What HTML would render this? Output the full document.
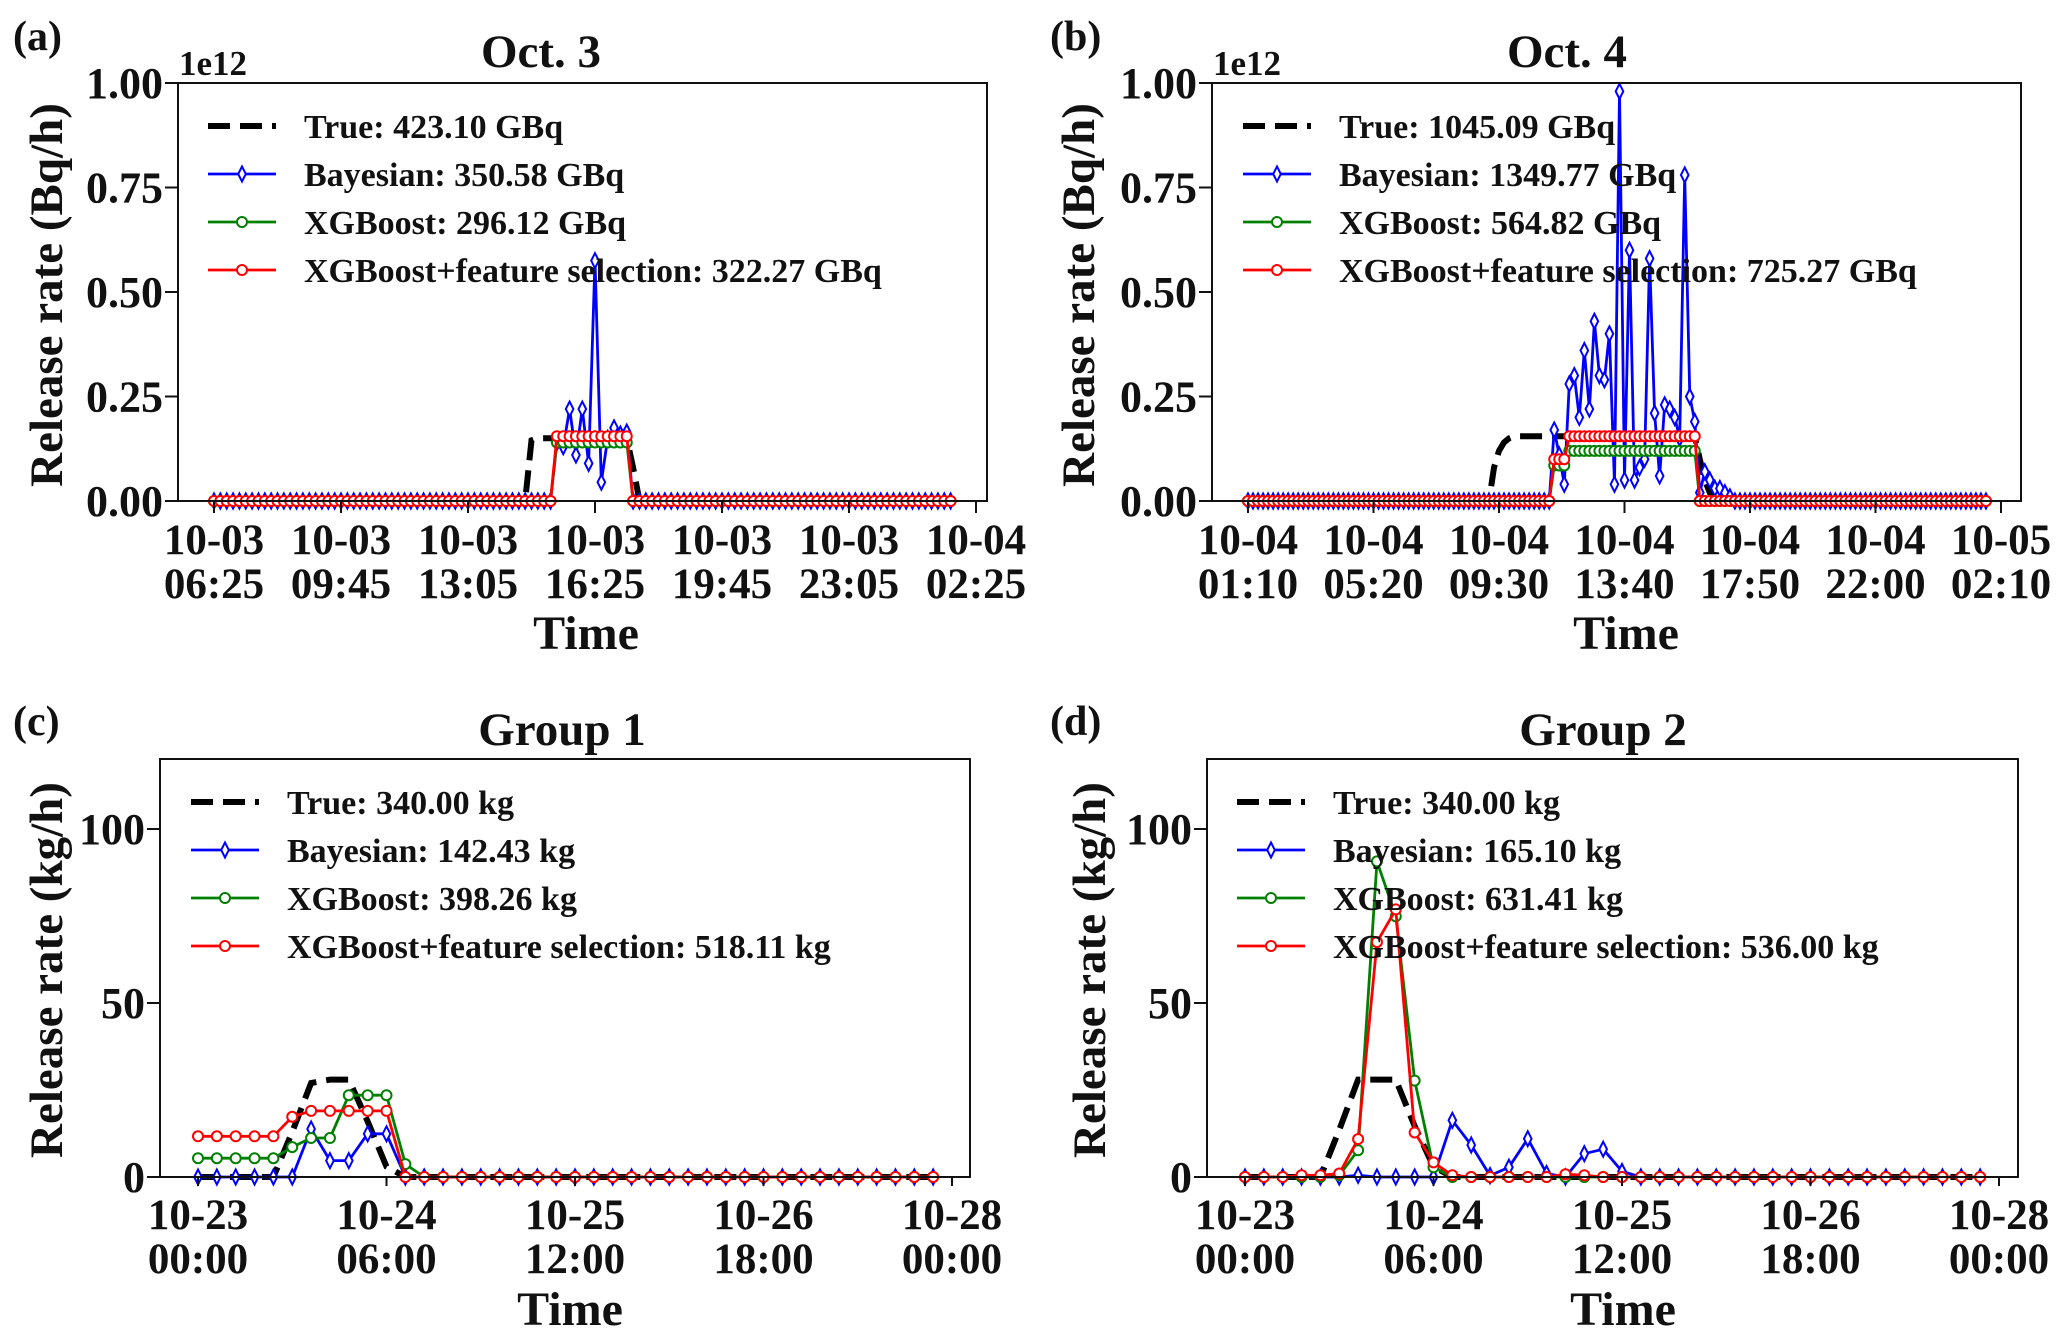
<!DOCTYPE html>
<html><head><meta charset="utf-8"><style>
html,body{margin:0;padding:0;background:#fff;}
svg text{font-family:"Liberation Serif",serif;font-weight:bold;fill:#111;}
</style></head><body>
<svg id="fig" width="2067" height="1336" viewBox="0 0 2067 1336" xmlns="http://www.w3.org/2000/svg"></svg>
<script>
// ---------- Panel (a) Oct. 3 : 10-min steps from 06:25, window values from index aStart ----------
const aN = 117;
const aStart = 48;
const aTrue  = [0,0,0.145,0.15,0.15,0.15,0.15,0.15,0.15,0.15,0.15,0.15,0.15,0.15,0.15,0.15,0.15,0.15,0.08,0];
const aBayes = [0,0,0,0,0,0,0.14,0.13,0.22,0.11,0.22,0.09,0.575,0.045,0.15,0.175,0.16,0.165,0,0];
const aXgb   = [0,0,0,0,0,0,0.14,0.14,0.14,0.14,0.14,0.14,0.14,0.14,0.14,0.14,0.14,0.14,0,0];
const aXfs   = [0,0,0,0,0,0,0.155,0.155,0.155,0.155,0.155,0.155,0.155,0.155,0.155,0.155,0.155,0.155,0,0];
const aTicks = [["10-03","06:25"],["10-03","09:45"],["10-03","13:05"],["10-03","16:25"],["10-03","19:45"],["10-03","23:05"],["10-04","02:25"]];
const aLegend = ["True: 423.10 GBq","Bayesian: 350.58 GBq","XGBoost: 296.12 GBq","XGBoost+feature selection: 322.27 GBq"];

// ---------- Panel (b) Oct. 4 : 10-min steps from 01:10 ----------
const bN = 148;
const bStart = 47;
const bTrue  = [0,0,0.08,0.12,0.14,0.15,0.155,0.155,0.155,0.155,0.155,0.155,0.155,0.155,0.155,0.155,0.155,0.155,0.155,0.155,0.155,0.155,0.155,0.155,0.155,0.155,0.155,0.155,0.155,0.155,0.155,0.155,0.155,0.155,0.155,0.155,0.155,0.155,0.155,0.155,0.155,0.155,0.155,0.1,0.05,0.02,0,0,0,0,0,0];
const bBayes = [0,0,0,0,0,0,0,0,0,0,0,0,0,0,0.17,0.11,0.04,0.28,0.3,0.2,0.36,0.22,0.43,0.3,0.29,0.4,0.04,0.98,0.05,0.6,0.05,0.08,0.1,0.58,0.21,0.06,0.23,0.22,0.2,0.15,0.78,0.25,0.19,0.02,0.07,0.05,0.03,0.03,0.02,0.01,0,0];
const bXgb   = [0,0,0,0,0,0,0,0,0,0,0,0,0,0,0.085,0.085,0.085,0.12,0.12,0.12,0.12,0.12,0.12,0.12,0.12,0.12,0.12,0.12,0.12,0.12,0.12,0.12,0.12,0.12,0.12,0.12,0.12,0.12,0.12,0.12,0.12,0.12,0.12,0,0,0,0,0,0,0,0,0];
const bXfs   = [0,0,0,0,0,0,0,0,0,0,0,0,0,0,0.1,0.1,0.1,0.155,0.155,0.155,0.155,0.155,0.155,0.155,0.155,0.155,0.155,0.155,0.155,0.155,0.155,0.155,0.155,0.155,0.155,0.155,0.155,0.155,0.155,0.155,0.155,0.155,0.155,0,0,0,0,0,0,0,0,0];
const bTicks = [["10-04","01:10"],["10-04","05:20"],["10-04","09:30"],["10-04","13:40"],["10-04","17:50"],["10-04","22:00"],["10-05","02:10"]];
const bLegend = ["True: 1045.09 GBq","Bayesian: 1349.77 GBq","XGBoost: 564.82 GBq","XGBoost+feature selection: 725.27 GBq"];

// ---------- Panel (c) Group 1 : 3-hour steps from 10-23 00:00 ----------
const cTrue  = [0,0,0,0,0,13,27,28,28,16,3,0,0,0,0,0,0,0,0,0,0,0,0,0,0,0,0,0,0,0,0,0,0,0,0,0,0,0,0,0];
const cBayes = [0,0,0,0,0,0,13.8,4.7,4.7,12.4,12.4,0,0,0,0,0,0,0,0,0,0,0,0,0,0,0,0,0,0,0,0,0,0,0,0,0,0,0,0,0];
const cXgb   = [5.4,5.4,5.4,5.4,5.4,8.6,11.2,11.2,23.5,23.5,23.5,3.7,0,0,0,0,0,0,0,0,0,0,0,0,0,0,0,0,0,0,0,0,0,0,0,0,0,0,0,0];
const cXfs   = [11.7,11.7,11.7,11.7,11.7,17.3,19,19,19,19,19,0,0,0,0,0,0,0,0,0,0,0,0,0,0,0,0,0,0,0,0,0,0,0,0,0,0,0,0,0];
const cLegend = ["True: 340.00 kg","Bayesian: 142.43 kg","XGBoost: 398.26 kg","XGBoost+feature selection: 518.11 kg"];

// ---------- Panel (d) Group 2 ----------
const dTrue  = [0,0,0,0,0,13.6,28,28,28,14.6,3,0,0,0,0,0,0,0,0,0,0,0,0,0,0,0,0,0,0,0,0,0,0,0,0,0,0,0,0,0];
const dBayes = [0,0,0,0,0,0,0.5,0,0,0,0,16.3,9.2,0.4,2.8,11,1,0,6.7,8,1.6,0,0,0,0,0,0,0,0,0,0,0,0,0,0,0,0,0,0,0];
const dXgb   = [0,0,0,0,0,0.5,7.7,90.7,74.9,27.7,2.8,0,0,0,0,0,0,0,0,0,0,0,0,0,0,0,0,0,0,0,0,0,0,0,0,0,0,0,0,0];
const dXfs   = [0,0,0,0.5,0.5,1,10.9,67.5,76.9,12.8,4.2,0.5,0,0,0,0,0,0.8,0.5,0,0,0,0,0,0,0,0,0,0,0,0,0,0,0,0,0,0,0,0,0];
const dLegend = ["True: 340.00 kg","Bayesian: 165.10 kg","XGBoost: 631.41 kg","XGBoost+feature selection: 536.00 kg"];
const cdTicks = [["10-23","00:00"],["10-24","06:00"],["10-25","12:00"],["10-26","18:00"],["10-28","00:00"]];

const NS = "http://www.w3.org/2000/svg";
const fig = document.getElementById('fig');
function mk(tag, attrs, parent){ const e=document.createElementNS(NS,tag); for(const k in attrs) e.setAttribute(k,attrs[k]); (parent||fig).appendChild(e); return e; }
function txt(s, x, y, size, anchor, parent){ const t=mk('text',{x:x,y:y,'font-size':size,'text-anchor':anchor||'middle'},parent); t.textContent=s; return t; }
function expand(win, start, n){ const out=[]; for(let i=0;i<n;i++){ const j=i-start; out.push(j>=0&&j<win.length?win[j]:0); } return out; }

const COLORS = {blue:'#0000ff', green:'#008000', red:'#ff0000'};

function diamond(g, x, y, col){
  return mk('path',{d:`M${x} ${y-7.5} L${x+3.8} ${y} L${x} ${y+7.5} L${x-3.8} ${y} Z`,fill:'#fff',stroke:col,'stroke-width':2},g);
}
function circle(g, x, y, col){
  return mk('circle',{cx:x,cy:y,r:5,fill:'#fff',stroke:col,'stroke-width':2},g);
}

function panel(p){
  const g = mk('g',{});
  
  
  const X = i => p.x0 + i*p.dx;
  const Y = v => p.yBase - v*p.ky;
  const series = [
    {vals:p.tru, col:'#000', kind:'true', name:'true-line'},
    {vals:p.bay, col:COLORS.blue, kind:'diamond', name:'bayesian-line'},
    {vals:p.xgb, col:COLORS.green, kind:'circle', name:'xgboost-line'},
    {vals:p.xfs, col:COLORS.red, kind:'circle', name:'xgboost-fs-line'}
  ];
  series.forEach(s=>{
    const sg = mk('g',{},g);
    
    
    const pts = s.vals.map((v,i)=>X(i).toFixed(1)+','+Y(v).toFixed(1)).join(' ');
    if(s.kind==='true'){
      mk('polyline',{points:pts,fill:'none',stroke:'#000','stroke-width':6,'stroke-dasharray':'22 10'},sg);
    } else {
      mk('polyline',{points:pts,fill:'none',stroke:s.col,'stroke-width':2.8,'stroke-linejoin':'round'},sg);
      s.vals.forEach((v,i)=>{ if(s.kind==='diamond') diamond(sg,X(i),Y(v),s.col); else circle(sg,X(i),Y(v),s.col); });
    }
  });
  const fr = mk('rect',{x:p.left,y:p.top,width:p.right-p.left,height:p.yBase-p.top,fill:'none',stroke:'#111','stroke-width':2},g);
  
  
  p.yTicks.forEach((v,k)=>{
    const y=Y(v);
    mk('line',{x1:p.left-13,y1:y,x2:p.left,y2:y,stroke:'#111','stroke-width':2},g);
    const t=txt(p.yLabels[k], p.left-15, y+15, 44, 'end', g);
    
    
  });
  p.xTicks.forEach((lab,k)=>{
    const x=p.x0 + k*p.tickStep*p.dx;
    mk('line',{x1:x,y1:p.yBase,x2:x,y2:p.yBase+p.tickLen,stroke:'#111','stroke-width':2},g);
    const t1=txt(lab[0], x, p.tickY1, 43, 'middle', g);
    
    
    const t2=txt(lab[1], x, p.tickY2, 43, 'middle', g);
    
    
  });
  const tt=txt(p.title, p.titleX, p.titleY, 47, 'middle', g);
  
  
  const pl=txt(p.letter, p.letterX, p.letterY, 42, 'start', g);
  
  
  const xt=txt('Time', p.timeX, p.timeY, 48, 'middle', g);
  
  
  const yt=txt(p.ylab, 0, 0, 47, 'middle', g);
  yt.setAttribute('transform',`translate(${p.ylabX},${p.ylabY}) rotate(-90)`);
  
  
  if(p.exp){ const e=txt('1e12', p.left+1, 75, 35, 'start', g);   }
  const lg = mk('g',{},g);
  
  
  const kinds=['true','diamond','circle','circle'], cols=['#000',COLORS.blue,COLORS.green,COLORS.red];
  p.legend.forEach((s,k)=>{
    const y=p.legY + k*48, x1=p.legX, x2=p.legX+68, xm=(x1+x2)/2;
    const eg = mk('g',{},lg);
    
    
    if(kinds[k]==='true') mk('line',{x1:x1,y1:y,x2:x2,y2:y,stroke:'#000','stroke-width':6,'stroke-dasharray':'22 10'},eg);
    else { mk('line',{x1:x1,y1:y,x2:x2,y2:y,stroke:cols[k],'stroke-width':2.8},eg); if(kinds[k]==='diamond') diamond(eg,xm,y,cols[k]); else circle(eg,xm,y,cols[k]); }
    txt(s, p.legX+96, y+12, 34, 'start', eg);
  });
}

panel({name:'panel-a-oct3', tru:expand(aTrue,aStart,aN), bay:expand(aBayes,aStart,aN), xgb:expand(aXgb,aStart,aN), xfs:expand(aXfs,aStart,aN),
  x0:214, dx:6.35, yBase:501, ky:418, left:178, right:987, top:83,
  yTicks:[0,0.25,0.5,0.75,1], yLabels:['0.00','0.25','0.50','0.75','1.00'],
  xTicks:aTicks, tickStep:20, tickLen:12, tickY1:554, tickY2:598,
  title:'Oct. 3', titleX:541, titleY:67, letter:'(a)', letterX:13, letterY:50,
  timeX:586, timeY:649, ylab:'Release rate (Bq/h)', ylabX:62, ylabY:295, exp:true,
  legend:aLegend, legX:208, legY:126});

panel({name:'panel-b-oct4', tru:expand(bTrue,bStart,bN), bay:expand(bBayes,bStart,bN), xgb:expand(bXgb,bStart,bN), xfs:expand(bXfs,bStart,bN),
  x0:1248, dx:5.02, yBase:501, ky:418, left:1212, right:2021, top:83,
  yTicks:[0,0.25,0.5,0.75,1], yLabels:['0.00','0.25','0.50','0.75','1.00'],
  xTicks:bTicks, tickStep:25, tickLen:12, tickY1:554, tickY2:598,
  title:'Oct. 4', titleX:1567, titleY:67, letter:'(b)', letterX:1050, letterY:50,
  timeX:1626, timeY:649, ylab:'Release rate (Bq/h)', ylabX:1094, ylabY:295, exp:true,
  legend:bLegend, legX:1243, legY:126});

panel({name:'panel-c-group1', tru:cTrue, bay:cBayes, xgb:cXgb, xfs:cXfs,
  x0:198, dx:18.85, yBase:1177, ky:3.48, left:160, right:970, top:759,
  yTicks:[0,50,100], yLabels:['0','50','100'],
  xTicks:cdTicks, tickStep:10, tickLen:9, tickY1:1229, tickY2:1273,
  title:'Group 1', titleX:562, titleY:745, letter:'(c)', letterX:13, letterY:735,
  timeX:570, timeY:1325, ylab:'Release rate (kg/h)', ylabX:62, ylabY:970, exp:false,
  legend:cLegend, legX:191, legY:802});

panel({name:'panel-d-group2', tru:dTrue, bay:dBayes, xgb:dXgb, xfs:dXfs,
  x0:1245, dx:18.85, yBase:1177, ky:3.48, left:1207, right:2018, top:759,
  yTicks:[0,50,100], yLabels:['0','50','100'],
  xTicks:cdTicks, tickStep:10, tickLen:9, tickY1:1229, tickY2:1273,
  title:'Group 2', titleX:1603, titleY:745, letter:'(d)', letterX:1050, letterY:735,
  timeX:1623, timeY:1325, ylab:'Release rate (kg/h)', ylabX:1105, ylabY:970, exp:false,
  legend:dLegend, legX:1237, legY:802});
</script>
</body></html>
